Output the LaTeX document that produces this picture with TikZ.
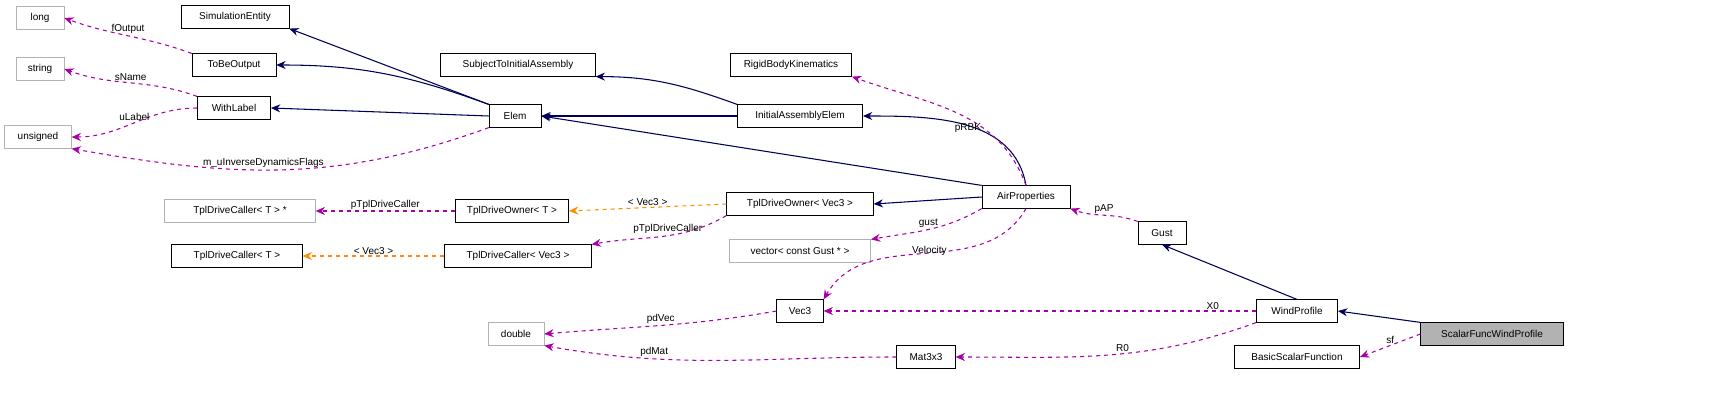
\documentclass[tikz,border=0pt]{standalone}
\usepackage{fontspec}
\setmainfont{Liberation Sans}
\usetikzlibrary{arrows.meta}

\begin{document}
\begin{tikzpicture}[
    x=0.75pt, y=-0.75pt,
    >={Stealth[length=7pt,width=6pt]},
    cls/.style={
        draw,
        inner sep=0pt,
        minimum height=17pt,
        font=\fontsize{7.5}{9}\selectfont
    },
    ext/.style={cls, draw=black!30},
    base/.style={->, draw=blue!35!black, thick},
    use/.style={->, draw=violet!70!magenta, dashed, thick},
    tmpl/.style={->, draw=orange!90!yellow, dashed, thick},
    lbl/.style={font=\fontsize{7.5}{9}\selectfont, inner sep=1pt}
]
    \useasboundingbox (0,0) rectangle (1723,411);

    % Klassen links
    \node[ext, minimum width=36pt] (long) at (40,18) {long};
    \node[ext, minimum width=36pt] (string) at (40,69) {string};
    \node[ext, minimum width=50pt] (unsigned) at (38,137) {unsigned};
    \node[cls, minimum width=81pt] (simentity) at (235,17) {SimulationEntity};
    \node[cls, minimum width=63pt] (tobeoutput) at (234,65) {ToBeOutput};
    \node[cls, minimum width=55pt] (withlabel) at (234,108) {WithLabel};
    \node[cls, minimum width=39pt] (elem) at (515,116) {Elem};
    \node[cls, minimum width=116pt] (subject) at (518,65) {SubjectToInitialAssembly};
    \node[cls, minimum width=91pt] (rbk) at (791,65) {RigidBodyKinematics};
    \node[cls, minimum width=94pt] (initelem) at (800,116) {InitialAssemblyElem};
    \node[cls, minimum width=66pt] (airprop) at (1026,197) {AirProperties};

    % Template-Klassen
    \node[ext, minimum width=113pt] (callerptr) at (240,211) {TplDriveCaller< T > *};
    \node[cls, minimum width=85pt] (ownerT) at (512,211) {TplDriveOwner< T >};
    \node[cls, minimum width=110pt] (ownerV) at (800,204) {TplDriveOwner< Vec3 >};
    \node[cls, minimum width=98pt] (callerT) at (237,256) {TplDriveCaller< T >};
    \node[cls, minimum width=110pt] (callerV) at (518,256) {TplDriveCaller< Vec3 >};
    \node[ext, minimum width=106pt] (gustvec) at (800,251) {vector< const Gust * >};

    % Wind
    \node[cls, minimum width=36pt] (gust) at (1162,233) {Gust};
    \node[cls, minimum width=35pt] (vec3) at (800,311) {Vec3};
    \node[cls, minimum width=61pt] (wind) at (1297,311) {WindProfile};
    \node[ext, minimum width=42pt] (double) at (516,334) {double};
    \node[cls, minimum width=44pt] (mat) at (926,357) {Mat3x3};
    \node[cls, minimum width=107pt, fill=black!30] (sfwind) at (1492,334) {ScalarFuncWindProfile};
    \node[cls, minimum width=94pt] (bsf) at (1297,357) {BasicScalarFunction};

    % Vererbung
    \draw[base] (elem.north west) -- (simentity.south east);
    \draw[base] (elem.north west) to[out=160,in=0] (tobeoutput.east);
    \draw[base] (elem.west) -- (withlabel.east);
    \draw[base] (initelem.north west) to[out=160,in=0] (subject.south east);
    \draw[base] (initelem.west) -- (elem.east);
    \draw[base] (airprop.north) to[out=100,in=0] (initelem.east);
    \draw[base] (airprop.north west) -- (elem.east);
    \draw[base] (airprop.west) -- (ownerV.east);
    \draw[base] (wind.north) -- (gust.south);
    \draw[base] (sfwind.north west) -- (wind.east);

    % Member
    \draw[use] (tobeoutput.north west) to[out=160,in=-20] node[lbl, above]{fOutput} (long.east);
    \draw[use] (withlabel.north west) to[out=160,in=-20] node[lbl, above]{sName} (string.east);
    \draw[use] (withlabel.west) to[out=180,in=0] node[lbl, above]{uLabel} (unsigned.east);
    \draw[use] (elem.south west) to[out=-160,in=-10] node[lbl, above, pos=0.55]{m\_uInverseDynamicsFlags} (unsigned.south east);
    \draw[use] (airprop.north) to[out=110,in=-20] node[lbl, left, pos=0.35]{pRBK} (rbk.south east);
    \draw[use] (airprop.south west) to[out=-150,in=10] node[lbl, above]{gust} (gustvec.north east);
    \draw[use] (airprop.south) to[out=-120,in=60] node[lbl, left, pos=0.4]{Velocity} (vec3.north east);
    \draw[tmpl] (ownerV.west) -- node[lbl, above]{< Vec3 >} (ownerT.east);
    \draw[use] (ownerT.west) -- node[lbl, above]{pTplDriveCaller} (callerptr.east);
    \draw[use] (ownerV.south west) to[out=-150,in=10] node[lbl, above, pos=0.45]{pTplDriveCaller} (callerV.north east);
    \draw[tmpl] (callerV.west) -- node[lbl, above]{< Vec3 >} (callerT.east);
    \draw[use] (gust.north west) to[out=160,in=-20] node[lbl, above]{pAP} (airprop.south east);
    \draw[use] (wind.west) -- node[lbl, above, pos=0.1]{X0} (vec3.east);
    \draw[use] (wind.south west) to[out=-160,in=0] node[lbl, above, pos=0.45]{R0} (mat.east);
    \draw[use] (sfwind.west) -- node[lbl, above]{sf} (bsf.east);
    \draw[use] (vec3.west) to[out=-170,in=5] node[lbl, above]{pdVec} (double.east);
    \draw[use] (mat.west) to[out=180,in=-10] node[lbl, above, pos=0.7]{pdMat} (double.south east);
\end{tikzpicture}
\end{document}
